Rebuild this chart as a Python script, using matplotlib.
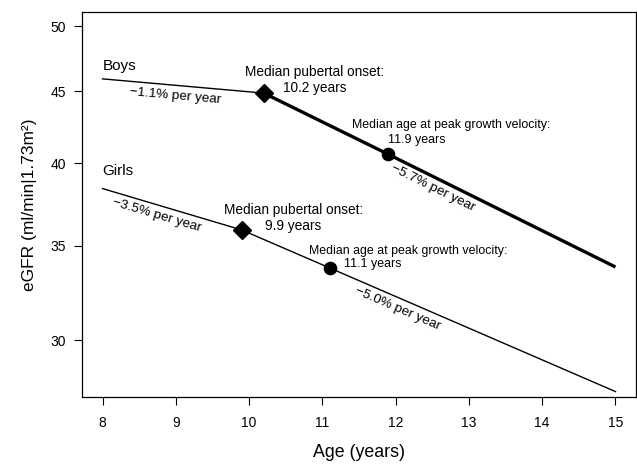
import numpy as np
import matplotlib
matplotlib.use('Agg')
import matplotlib.pyplot as plt
from matplotlib.ticker import FixedLocator, NullLocator, FixedFormatter

plt.rcParams['font.family'] = ['Liberation Sans', 'DejaVu Sans']

# values
boys_age = [8.0, 10.2, 11.9, 15.0]
boys_egfr = [45.9, 44.85, 40.6, 33.8]
girls_age = [8.0, 9.9, 11.1, 15.0]
girls_egfr = [38.4, 35.9, 33.75, 27.6]

x_ticks = [8, 9, 10, 11, 12, 13, 14, 15]
y_ticks = [30, 35, 40, 45, 50]

fig = plt.figure(figsize=(6.37, 4.65), dpi=100)
ax = fig.add_axes([0.1287, 0.1462, 0.9984 - 0.1287, 0.9742 - 0.1462])
ax.set_yscale('log')
ax.set_xlim(7.72, 15.28)
ax.set_ylim(28 / np.exp(0.0232), 50 * np.exp(0.0232))

# boys: thin before pubertal onset, thick after
ax.plot(boys_age[:2], boys_egfr[:2], color='black', lw=1.0)
ax.plot(boys_age[1:], boys_egfr[1:], color='black', lw=2.4, solid_capstyle='butt')
ax.plot(girls_age, girls_egfr, color='black', lw=1.0)

ax.plot(boys_age[1], boys_egfr[1], 'D', color='black', ms=8.7)
ax.plot(boys_age[2], boys_egfr[2], 'o', color='black', ms=8.8)
ax.plot(girls_age[1], girls_egfr[1], 'D', color='black', ms=8.7)
ax.plot(girls_age[2], girls_egfr[2], 'o', color='black', ms=8.8)


def angle(x0, y0, x1, y1):
    # slope of a segment on screen, in degrees
    p0 = ax.transData.transform((x0, y0))
    p1 = ax.transData.transform((x1, y1))
    return np.degrees(np.arctan2(p1[1] - p0[1], p1[0] - p0[0]))


fs_onset = 9.8
fs_peak = 8.9
fs_rate = 9.7
ax.text(8.0, 46.9, 'Boys', fontsize=11, ha='left', va='center')
ax.text(8.0, 39.5, 'Girls', fontsize=11, ha='left', va='center')

ax.text(10.90, 46.38, 'Median pubertal onset:', fontsize=fs_onset, ha='center', va='center')
ax.text(10.90, 45.24, '10.2 years', fontsize=fs_onset, ha='center', va='center')
ax.text(12.765, 42.59, 'Median age at peak growth velocity:', fontsize=fs_peak, ha='center', va='center')
ax.text(12.295, 41.56, '11.9 years', fontsize=fs_peak, ha='center', va='center')

ax.text(10.61, 37.1, 'Median pubertal onset:', fontsize=fs_onset, ha='center', va='center')
ax.text(10.60, 36.16, '9.9 years', fontsize=fs_onset, ha='center', va='center')
ax.text(12.17, 34.68, 'Median age at peak growth velocity:', fontsize=fs_peak, ha='center', va='center')
ax.text(11.69, 33.95, '11.1 years', fontsize=fs_peak, ha='center', va='center')

ax.text(8.99, 44.6, '\u22121.1% per year', fontsize=fs_rate, ha='center', va='center',
        rotation=angle(boys_age[0], boys_egfr[0], boys_age[1], boys_egfr[1]))
ax.text(12.51, 38.46, '\u22125.7% per year', fontsize=fs_rate, ha='center', va='center',
        rotation=angle(boys_age[1], boys_egfr[1], boys_age[3], boys_egfr[3]))
ax.text(8.74, 36.77, '\u22123.5% per year', fontsize=fs_rate, ha='center', va='center',
        rotation=angle(girls_age[0], girls_egfr[0], girls_age[1], girls_egfr[1]))
ax.text(12.03, 31.6, '\u22125.0% per year', fontsize=fs_rate, ha='center', va='center',
        rotation=angle(girls_age[1], girls_egfr[1], girls_age[3], girls_egfr[3]))

ax.xaxis.set_major_locator(FixedLocator(x_ticks))
ax.yaxis.set_major_locator(FixedLocator(y_ticks))
ax.yaxis.set_major_formatter(FixedFormatter([str(v) for v in y_ticks]))
ax.yaxis.set_minor_locator(NullLocator())
ax.tick_params(axis='both', direction='out', length=6, width=0.8, labelsize=10)
ax.tick_params(axis='x', pad=8)
ax.tick_params(axis='y', pad=5.5)

for s in ax.spines.values():
    s.set_linewidth(0.9)

ax.set_xlabel('Age (years)', fontsize=12.8, labelpad=10)
ax.set_ylabel('eGFR (ml/min|1.73m\u00b2)', fontsize=12.5, labelpad=10)

fig.savefig('out.png', dpi=100)
